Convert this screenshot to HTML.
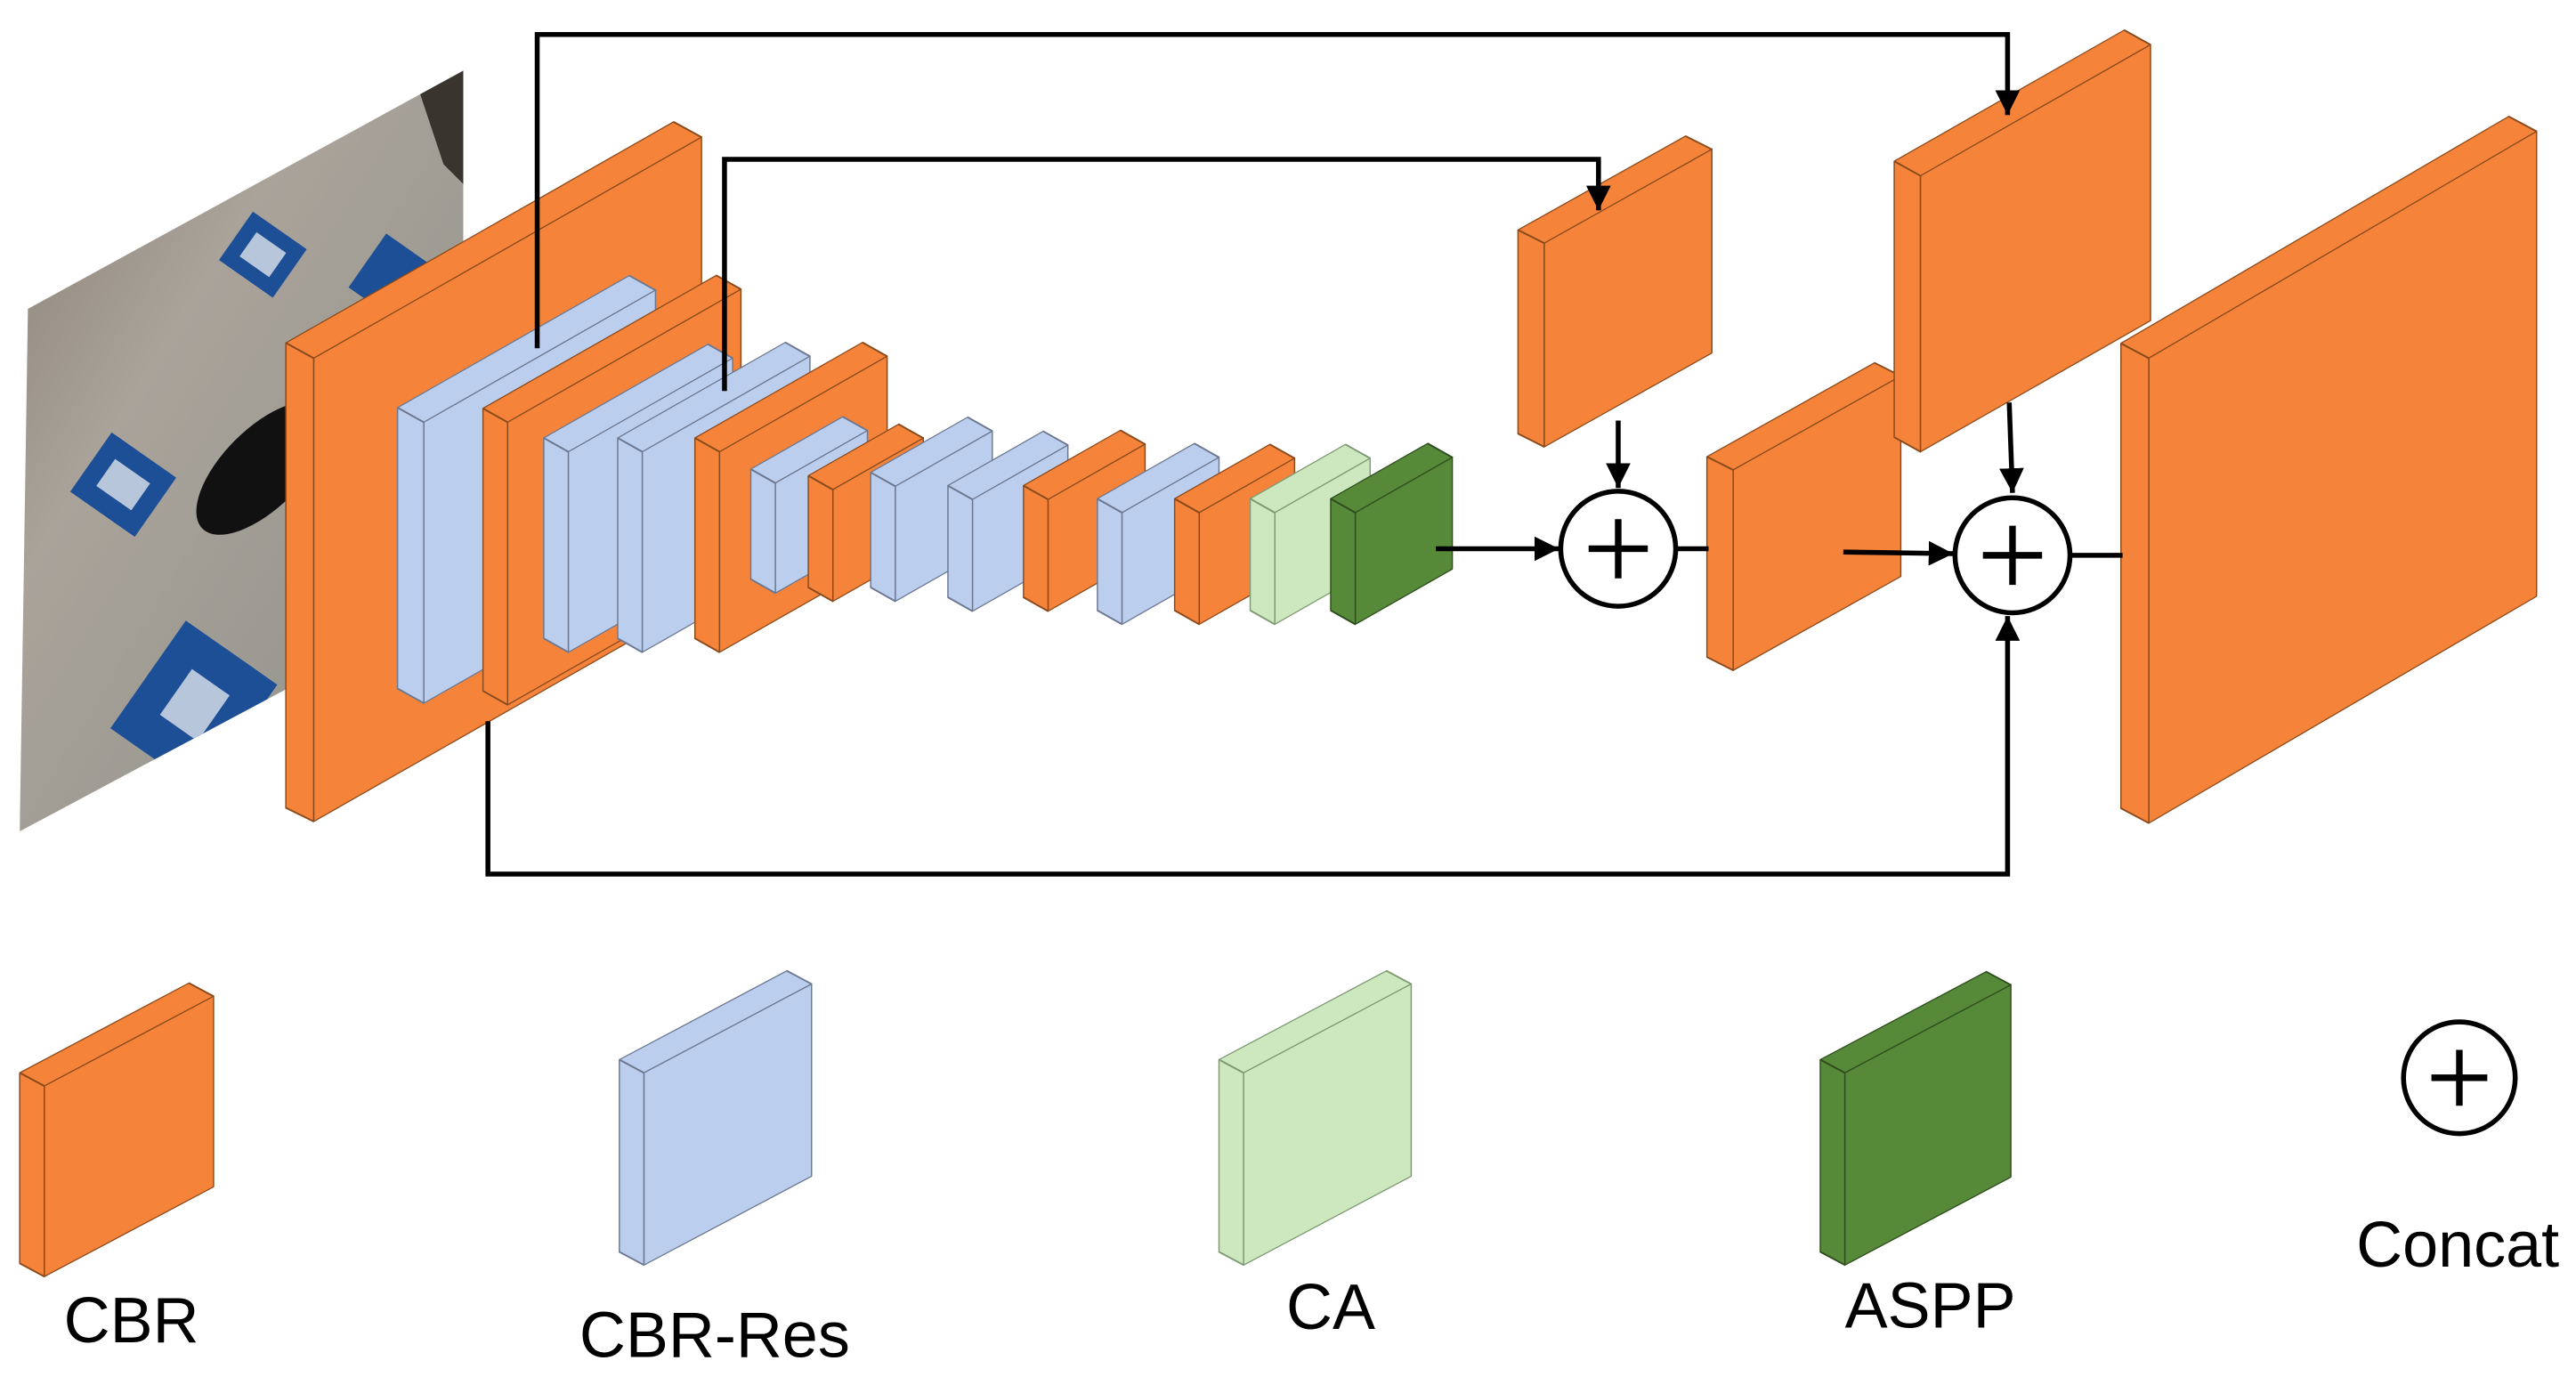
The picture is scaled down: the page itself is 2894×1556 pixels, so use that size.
<!DOCTYPE html>
<html><head><meta charset="utf-8"><style>
html,body{margin:0;padding:0;background:#fff;}
svg{display:block;}
text{font-family:"Liberation Sans",sans-serif;fill:#000;}
</style></head><body>
<svg width="2894" height="1556" viewBox="0 0 1568 843" preserveAspectRatio="none" xmlns="http://www.w3.org/2000/svg">
<defs>
<linearGradient id="ph" x1="0" y1="0" x2="1" y2="1">
<stop offset="0" stop-color="#857b70"/><stop offset="0.35" stop-color="#aaa39a"/><stop offset="0.7" stop-color="#999891"/><stop offset="1" stop-color="#7b7c78"/>
</linearGradient>
<marker id="ar" viewBox="0 0 10 10" refX="10" refY="5" markerWidth="5" markerHeight="5" orient="auto" markerUnits="strokeWidth">
<path d="M0,0 L10,5 L0,10 z" fill="#000"/></marker>
<clipPath id="pc"><polygon points="17,188 282,43 282,362 12,506"/></clipPath>
</defs>

<g clip-path="url(#pc)">
<rect x="0" y="30" width="300" height="490" fill="url(#ph)"/>
<polygon points="250,40 290,40 290,120 270,100" fill="#3a342e"/>
<g transform="translate(160,155) rotate(35)"><rect x="-20" y="-18" width="40" height="36" fill="#1d4f96"/><rect x="-11" y="-9" width="22" height="18" fill="#b7c6db"/></g>
<g transform="translate(240,170) rotate(35)"><rect x="-20" y="-20" width="40" height="40" fill="#1d4f96"/></g>
<g transform="translate(75,295) rotate(35)"><rect x="-24" y="-22" width="48" height="44" fill="#1d4f96"/><rect x="-13" y="-10" width="26" height="20" fill="#b7c6db"/></g>
<g transform="translate(118,430) rotate(35)"><rect x="-34" y="-40" width="68" height="80" fill="#1d4f96"/><rect x="-14" y="-18" width="28" height="34" fill="#b7c6db"/></g>
<ellipse cx="160" cy="285" rx="52" ry="24" transform="rotate(-45 160 285)" fill="#111"/>
</g>

<g stroke-width="0.8" stroke-linejoin="round">
<g transform="matrix(1,-0.57,0,1,191,218)" fill="#F5843A" stroke="#8a4a1c">
<polygon points="0,0 0,282 -17,264 -17,-19"/><polygon points="0,0 236,0 219,-19 -17,-19"/><rect width="236" height="282"/></g>
<g transform="matrix(1,-0.57,0,1,258,257)" fill="#BBCEEE" stroke="#6d7890">
<polygon points="0,0 0,171 -16,153 -16,-18"/><polygon points="0,0 141,0 125,-18 -16,-18"/><rect width="141" height="171"/></g>
<g transform="matrix(1,-0.57,0,1,309,257)" fill="#F5843A" stroke="#8a4a1c">
<polygon points="0,0 0,172 -15,155 -15,-17"/><polygon points="0,0 142,0 127,-17 -15,-17"/><rect width="142" height="172"/></g>
<g transform="matrix(1,-0.57,0,1,346,275)" fill="#BBCEEE" stroke="#6d7890">
<polygon points="0,0 0,122 -15,105 -15,-17"/><polygon points="0,0 100,0 85,-17 -15,-17"/><rect width="100" height="122"/></g>
<g transform="matrix(1,-0.57,0,1,391,275)" fill="#BBCEEE" stroke="#6d7890">
<polygon points="0,0 0,122 -15,105 -15,-17"/><polygon points="0,0 102,0 87,-17 -15,-17"/><rect width="102" height="122"/></g>
<g transform="matrix(1,-0.57,0,1,438,275)" fill="#F5843A" stroke="#8a4a1c">
<polygon points="0,0 0,122 -15,105 -15,-17"/><polygon points="0,0 102,0 87,-17 -15,-17"/><rect width="102" height="122"/></g>
<g transform="matrix(1,-0.57,0,1,472,294)" fill="#BBCEEE" stroke="#6d7890">
<polygon points="0,0 0,67 -15,50 -15,-17"/><polygon points="0,0 56,0 41,-17 -15,-17"/><rect width="56" height="67"/></g>
<g transform="matrix(1,-0.57,0,1,507,298)" fill="#F5843A" stroke="#8a4a1c">
<polygon points="0,0 0,68 -15,51 -15,-17"/><polygon points="0,0 55,0 40,-17 -15,-17"/><rect width="55" height="68"/></g>
<g transform="matrix(1,-0.57,0,1,545,296)" fill="#BBCEEE" stroke="#6d7890">
<polygon points="0,0 0,70 -15,53 -15,-17"/><polygon points="0,0 59,0 44,-17 -15,-17"/><rect width="59" height="70"/></g>
<g transform="matrix(1,-0.57,0,1,592,304)" fill="#BBCEEE" stroke="#6d7890">
<polygon points="0,0 0,68 -15,51 -15,-17"/><polygon points="0,0 58,0 43,-17 -15,-17"/><rect width="58" height="68"/></g>
<g transform="matrix(1,-0.57,0,1,638,304)" fill="#F5843A" stroke="#8a4a1c">
<polygon points="0,0 0,68 -15,51 -15,-17"/><polygon points="0,0 59,0 44,-17 -15,-17"/><rect width="59" height="68"/></g>
<g transform="matrix(1,-0.57,0,1,683,312)" fill="#BBCEEE" stroke="#6d7890">
<polygon points="0,0 0,68 -15,51 -15,-17"/><polygon points="0,0 59,0 44,-17 -15,-17"/><rect width="59" height="68"/></g>
<g transform="matrix(1,-0.57,0,1,730,312)" fill="#F5843A" stroke="#8a4a1c">
<polygon points="0,0 0,68 -15,51 -15,-17"/><polygon points="0,0 58,0 43,-17 -15,-17"/><rect width="58" height="68"/></g>
<g transform="matrix(1,-0.57,0,1,776,312)" fill="#CDE8BE" stroke="#7f9a74">
<polygon points="0,0 0,68 -15,51 -15,-17"/><polygon points="0,0 58,0 43,-17 -15,-17"/><rect width="58" height="68"/></g>
<g transform="matrix(1,-0.57,0,1,825,312)" fill="#568A38" stroke="#2f4d1f">
<polygon points="0,0 0,68 -15,51 -15,-17"/><polygon points="0,0 59,0 44,-17 -15,-17"/><rect width="59" height="68"/></g>
<g transform="matrix(1,-0.56,0,1,940,148)" fill="#F5843A" stroke="#8a4a1c">
<polygon points="0,0 0,124 -16,107 -16,-17"/><polygon points="0,0 102,0 86,-17 -16,-17"/><rect width="102" height="124"/></g>
<g transform="matrix(1,-0.56,0,1,1055,286)" fill="#F5843A" stroke="#8a4a1c">
<polygon points="0,0 0,122 -16,105 -16,-17"/><polygon points="0,0 102,0 86,-17 -16,-17"/><rect width="102" height="122"/></g>
<g transform="matrix(1,-0.57,0,1,1169,107)" fill="#F5843A" stroke="#8a4a1c">
<polygon points="0,0 0,168 -16,150 -16,-18"/><polygon points="0,0 140,0 124,-18 -16,-18"/><rect width="140" height="168"/></g>
<g transform="matrix(1,-0.585,0,1,1308,218)" fill="#F5843A" stroke="#8a4a1c">
<polygon points="0,0 0,283 -17,264 -17,-19"/><polygon points="0,0 236,0 219,-19 -17,-19"/><rect width="236" height="283"/></g>

<g transform="matrix(1,-0.53,0,1,27,661)" fill="#F5843A" stroke="#8a4a1c">
<polygon points="0,0 0,116 -15,100 -15,-16"/><polygon points="0,0 103,0 88,-16 -15,-16"/><rect width="103" height="116"/></g>
<g transform="matrix(1,-0.53,0,1,392,653)" fill="#BBCEEE" stroke="#6d7890">
<polygon points="0,0 0,117 -15,101 -15,-16"/><polygon points="0,0 102,0 87,-16 -15,-16"/><rect width="102" height="117"/></g>
<g transform="matrix(1,-0.53,0,1,757,653)" fill="#CDE8BE" stroke="#7f9a74">
<polygon points="0,0 0,117 -15,101 -15,-16"/><polygon points="0,0 102,0 87,-16 -15,-16"/><rect width="102" height="117"/></g>
<g transform="matrix(1,-0.53,0,1,1123,653)" fill="#568A38" stroke="#2f4d1f">
<polygon points="0,0 0,117 -15,101 -15,-16"/><polygon points="0,0 101,0 86,-16 -15,-16"/><rect width="101" height="117"/></g>
</g>

<g fill="none" stroke="#000" stroke-width="3">
<polyline points="327,212 327,21 1222,21 1222,70" marker-end="url(#ar)"/>
<polyline points="441,238 441,97 973,97 973,128" marker-end="url(#ar)"/>
<polyline points="297,439 297,532 1222,532 1222,375" marker-end="url(#ar)"/>
<line x1="874" y1="334" x2="949" y2="334" marker-end="url(#ar)"/>
<line x1="1020" y1="334" x2="1040" y2="334"/>
<line x1="1122" y1="336" x2="1189" y2="337" marker-end="url(#ar)"/>
<line x1="1260" y1="338" x2="1292" y2="338"/>
<line x1="985" y1="256" x2="985" y2="297" marker-end="url(#ar)"/>
<line x1="1223" y1="245" x2="1225" y2="300" marker-end="url(#ar)"/>
</g>
<g fill="#fff" stroke="#000" stroke-width="3">
<circle cx="985" cy="334" r="35"/>
<circle cx="1225" cy="338" r="35"/>
<circle cx="1497" cy="656" r="34"/>
</g>
<g stroke="#000" stroke-width="4">
<line x1="967" y1="334" x2="1003" y2="334"/><line x1="985" y1="316" x2="985" y2="352"/>
<line x1="1207" y1="338" x2="1243" y2="338"/><line x1="1225" y1="320" x2="1225" y2="356"/>
<line x1="1480" y1="656" x2="1514" y2="656"/><line x1="1497" y1="639" x2="1497" y2="673"/>
</g>

<g font-size="39">
<text x="80" y="817" text-anchor="middle">CBR</text>
<text x="435" y="826" text-anchor="middle">CBR-Res</text>
<text x="810" y="809" text-anchor="middle">CA</text>
<text x="1175" y="808" text-anchor="middle">ASPP</text>
<text x="1496" y="771" text-anchor="middle">Concat</text>
</g>
</svg>
</body></html>
